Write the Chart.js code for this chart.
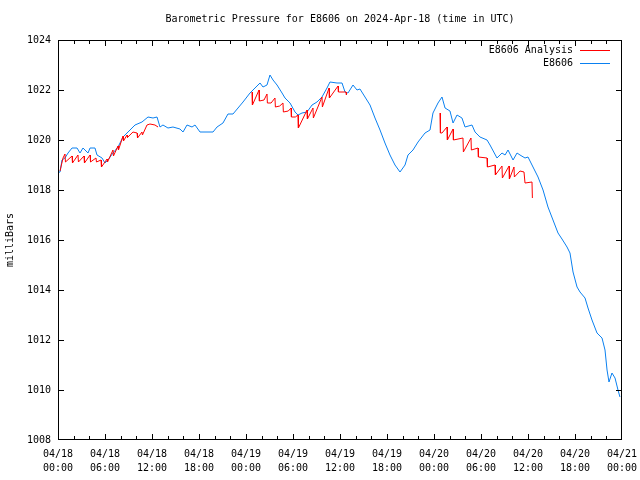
<!DOCTYPE html>
<html>
<head>
<meta charset="utf-8">
<title>Barometric Pressure E8606</title>
<script src="https://cdn.jsdelivr.net/npm/chart.js@4"></script>
<style>
  html, body { margin: 0; padding: 0; background: #fff; }
</style>
</head>
<body>
<canvas id="chart" width="640" height="480"></canvas>
<script>
// hours since 04/18 00:00 UTC, pressure in mb
const stationHours = [0, 0.26, 0.51, 0.89, 1.28, 1.79, 2.43, 2.81, 3.19, 3.83, 4.09, 4.72, 4.98, 5.62, 6.0, 6.38,
  7.02, 7.66, 8.3, 8.94, 9.83, 10.72, 11.49, 12.13, 12.64, 13.02, 13.4, 14.04, 14.68, 15.57, 15.96, 16.47,
  17.11, 17.49, 18.13, 19.79, 20.3, 21.06, 21.7, 22.34, 22.98, 23.62, 24.51, 25.15, 25.79, 26.17, 26.68,
  27.06, 27.45, 27.96, 28.6, 28.98, 29.62, 30.26, 30.64, 31.15, 31.79, 32.43, 33.06, 33.7, 34.34, 34.72,
  35.62, 36.26, 36.64, 37.02, 37.66, 38.17, 38.55, 39.19, 39.83, 40.47, 41.11, 41.74, 42.38, 43.02, 43.66,
  44.3, 44.68, 45.32, 45.96, 46.85, 47.49, 47.87, 48.51, 49.02, 49.41, 50.04, 50.43, 50.94, 51.57, 51.96,
  52.85, 53.24, 53.87, 54.77, 55.15, 56.04, 56.68, 57.07, 57.45, 58.09, 58.6, 58.98, 59.62, 60.0, 60.64,
  61.28, 61.92, 62.55, 63.19, 63.83, 64.34, 64.98, 65.36, 65.75, 66.26, 66.64, 67.28, 67.66, 68.17, 68.81,
  69.45, 69.83, 70.09, 70.34, 70.72, 71.11, 71.49, 71.74];
const stationPressure = [1018.7, 1018.72, 1019.2, 1019.28, 1019.48, 1019.68, 1019.68, 1019.48, 1019.68, 1019.48,
  1019.68, 1019.68, 1019.4, 1019.28, 1019.08, 1019.2, 1019.48, 1019.72, 1020.12, 1020.32, 1020.6, 1020.72,
  1020.92, 1020.88, 1020.92, 1020.52, 1020.6, 1020.48, 1020.52, 1020.44, 1020.32, 1020.6, 1020.52, 1020.6,
  1020.32, 1020.32, 1020.52, 1020.68, 1021.04, 1021.04, 1021.28, 1021.52, 1021.88, 1022.08, 1022.28, 1022.12,
  1022.2, 1022.6, 1022.4, 1022.2, 1021.88, 1021.68, 1021.48, 1021.12, 1021.0, 1021.08, 1021.12, 1021.4,
  1021.52, 1021.72, 1022.08, 1022.32, 1022.28, 1022.28, 1021.92, 1021.88, 1022.2, 1022.0, 1022.04, 1021.72,
  1021.4, 1020.88, 1020.4, 1019.88, 1019.4, 1019.0, 1018.72, 1019.0, 1019.4, 1019.6, 1019.92, 1020.28,
  1020.4, 1021.08, 1021.48, 1021.72, 1021.28, 1021.16, 1020.68, 1021.0, 1020.88, 1020.52, 1020.6, 1020.32,
  1020.12, 1020.0, 1019.8, 1019.28, 1019.48, 1019.4, 1019.6, 1019.2, 1019.48, 1019.4, 1019.28, 1019.32,
  1018.92, 1018.52, 1018.0, 1017.32, 1016.8, 1016.28, 1016.04, 1015.72, 1015.48, 1014.72, 1014.12, 1013.92,
  1013.68, 1013.28, 1012.8, 1012.28, 1012.08, 1011.6, 1010.8, 1010.32, 1010.68, 1010.48, 1010.0, 1009.72];

// analysis runs, null = gap between runs
const analysisHours = [0.26, 0.64, 0.89, 0.95, 1.79, 1.85, 2.55, 2.61, 3.32, 3.38, 4.09, 4.15, 4.85, 4.91, 5.49,
  5.55, 6.26, 6.32, 7.02, 7.08, 7.66, 7.72, 8.3, 8.36, 8.81, 8.87, 9.57, 10.09, 10.15, 10.72, 10.78, 11.36,
  11.74, 12.38, 12.77,
  18,
  24.77, 24.82, 25.66, 25.71, 26.3, 26.68, 26.73, 27.2, 27.7, 27.75, 28.3, 28.72, 28.77, 29.4, 29.75, 29.8,
  30.3, 30.64, 30.69, 31.79, 31.84, 32.55, 32.6, 33.7, 33.75, 34.6, 34.65, 35.75, 35.8, 36.6, 36.77, 36.82,
  42,
  48.77, 48.82, 49.02, 49.66, 49.71, 50.43, 50.48, 51.7, 51.75, 52.72, 52.77, 53.62, 53.67, 54.77, 54.82,
  55.79, 55.84, 56.68, 56.73, 57.58, 57.63, 58.21, 58.26, 58.98, 59.49, 59.62, 60.51, 60.56];
const analysisPressure = [1018.76, 1019.28, 1019.44, 1019.12, 1019.36, 1019.08, 1019.4, 1019.12, 1019.36, 1019.08,
  1019.4, 1019.12, 1019.28, 1019.12, 1019.2, 1018.92, 1019.24, 1019.12, 1019.6, 1019.36, 1019.76, 1019.6,
  1020.16, 1019.96, 1020.2, 1020.1, 1020.32, 1020.28, 1020.08, 1020.32, 1020.2, 1020.6, 1020.64, 1020.6,
  1020.52,
  null,
  1021.92, 1021.4, 1022.0, 1021.56, 1021.6, 1021.84, 1021.48, 1021.48, 1021.68, 1021.32, 1021.36, 1021.48,
  1021.12, 1021.16, 1021.28, 1020.92, 1020.92, 1021.0, 1020.48, 1021.2, 1020.84, 1021.28, 1020.88, 1021.72,
  1021.32, 1022.08, 1021.68, 1022.16, 1021.92, 1021.92, 1021.92, 1021.8,
  null,
  1021.08, 1020.28, 1020.28, 1020.52, 1020.0, 1020.44, 1020.0, 1020.08, 1019.52, 1020.08, 1019.6, 1019.68,
  1019.32, 1019.28, 1018.92, 1019.0, 1018.6, 1018.96, 1018.48, 1018.96, 1018.44, 1018.92, 1018.52, 1018.76,
  1018.72, 1018.28, 1018.32, 1017.68];

const dayLabels = ['04/18', '04/18', '04/18', '04/18', '04/19', '04/19', '04/19', '04/19', '04/20', '04/20', '04/20', '04/20', '04/21'];
const timeLabels = ['00:00', '06:00', '12:00', '18:00', '00:00', '06:00', '12:00', '18:00', '00:00', '06:00', '12:00', '18:00', '00:00'];

const chartTitle = 'Barometric Pressure for E8606 on 2024-Apr-18 (time in UTC)';
const legendNames = ['E8606 Analysis', 'E8606'];
const red = '#ff0000';
const blue = '#0a80f0';

const toPoints = (xs, ys) => xs.map((h, i) => ({ x: h, y: ys[i] }));

Chart.defaults.font.family = "'DejaVu Sans Mono', monospace";
Chart.defaults.font.size = 10;
Chart.defaults.color = '#000';

// gnuplot look: box border, inward ticks, title and legend
const gnuplotFrame = {
    id: 'gnuplotFrame',
    afterDraw(chart) {
        const { ctx, chartArea: a, scales: { x, y } } = chart;
        ctx.save();
        ctx.fillStyle = '#000';
        const L = Math.round(a.left), R = Math.round(a.right) - 1;
        const T = Math.round(a.top), B = Math.round(a.bottom) - 1;
        ctx.fillRect(L, T, R - L + 1, 1);
        ctx.fillRect(L, B, R - L + 1, 1);
        ctx.fillRect(L, T, 1, B - T + 1);
        ctx.fillRect(R, T, 1, B - T + 1);

        for (let h = 0; h <= 72; h += 2) {
            const px = Math.min(R, Math.round(x.getPixelForValue(h)));
            const len = h % 6 === 0 ? 5 : 3;
            ctx.fillRect(px, B - len, 1, len);
            ctx.fillRect(px, T, 1, len + 1);
        }
        for (let p = 1008; p <= 1024; p += 2) {
            const py = Math.min(B, Math.round(y.getPixelForValue(p)));
            ctx.fillRect(L, py, 6, 1);
            ctx.fillRect(R - 5, py, 6, 1);
        }

        ctx.font = "10px 'DejaVu Sans Mono', monospace";
        ctx.textBaseline = 'middle';
        ctx.textAlign = 'center';
        ctx.fillText(chartTitle, (a.left + a.right) / 2, 19);

        ctx.textAlign = 'right';
        [red, blue].forEach((c, i) => {
            const ly = 50 + i * 13;
            ctx.fillStyle = '#000';
            ctx.fillText(legendNames[i], 573, ly);
            ctx.fillStyle = c;
            ctx.fillRect(580, ly, 30, 1);
        });
        ctx.restore();
    }
};

new Chart(document.getElementById('chart'), {
    type: 'line',
    data: {
        datasets: [{
            label: legendNames[0],
            data: toPoints(analysisHours, analysisPressure),
            borderColor: red,
            borderWidth: 1,
            pointRadius: 0,
            spanGaps: false
        }, {
            label: legendNames[1],
            data: toPoints(stationHours, stationPressure),
            borderColor: blue,
            borderWidth: 1,
            pointRadius: 0
        }]
    },
    options: {
        responsive: false,
        animation: false,
        layout: { padding: { top: 40, right: 18, left: 0, bottom: 0 } },
        plugins: { legend: { display: false }, title: { display: false }, tooltip: { enabled: false } },
        scales: {
            x: {
                type: 'linear',
                min: 0,
                max: 72,
                grid: { display: false, drawTicks: false },
                border: { display: false },
                afterFit: s => { s.height = 40; s.paddingLeft = 0; s.paddingRight = 0; },
                ticks: {
                    stepSize: 6,
                    autoSkip: false,
                    maxRotation: 0,
                    padding: 7,
                    font: { size: 10, lineHeight: 1.4 },
                    callback: (v) => [dayLabels[v / 6], timeLabels[v / 6]]
                }
            },
            y: {
                min: 1008,
                max: 1024,
                grid: { display: false, drawTicks: false },
                border: { display: false },
                afterFit: s => { s.width = 58; s.paddingTop = 0; s.paddingBottom = 0; },
                ticks: { stepSize: 2, padding: 7, callback: v => String(v) },
                title: { display: true, text: 'milliBars', padding: { top: 4, bottom: 0 }, font: { size: 10 } }
            }
        }
    },
    plugins: [gnuplotFrame]
});
</script>
</body>
</html>
